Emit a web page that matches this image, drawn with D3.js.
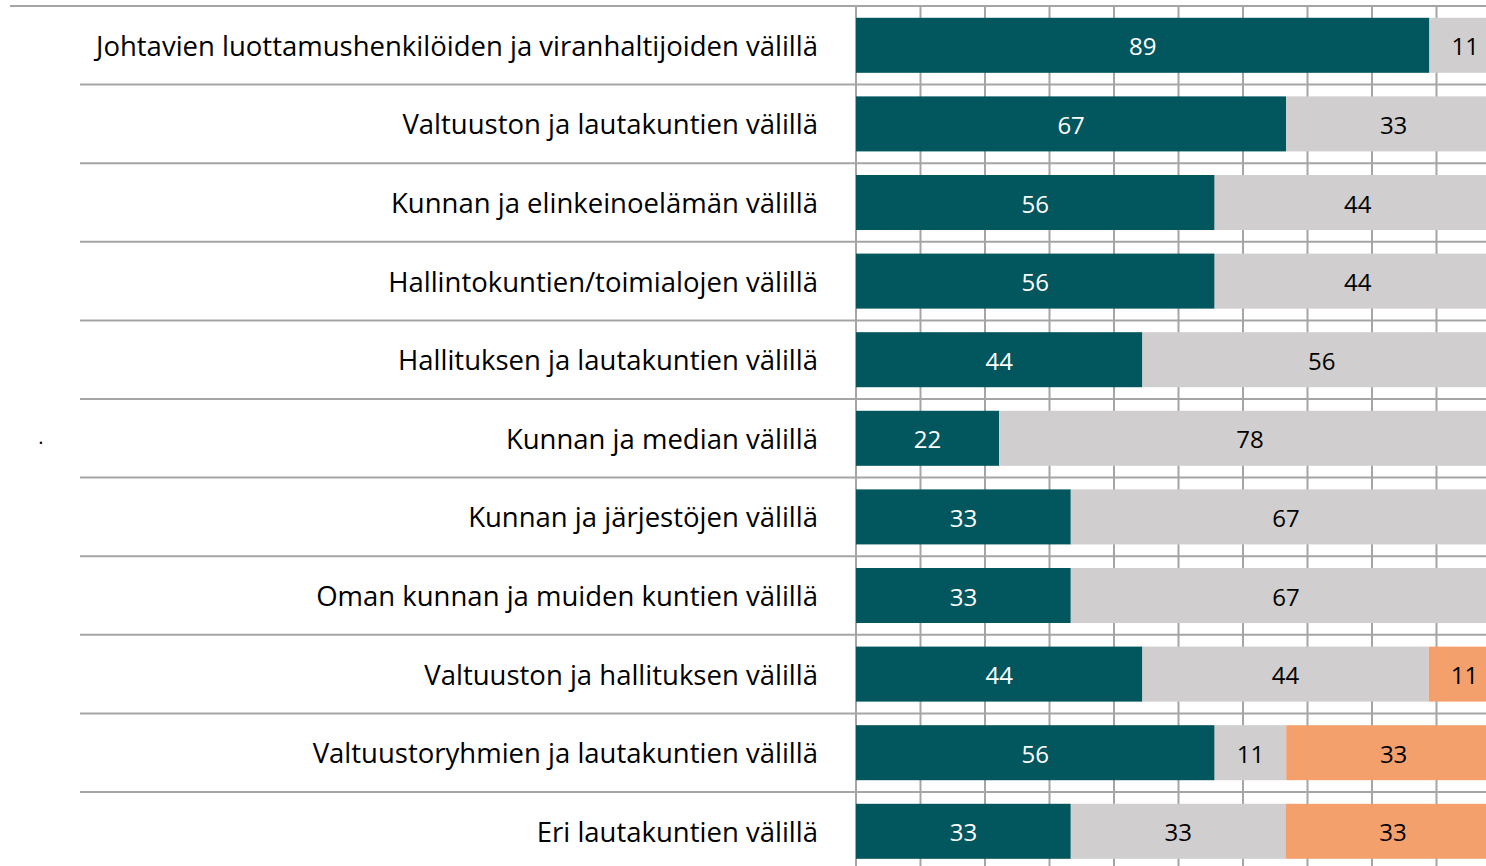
<!DOCTYPE html>
<html>
<head>
<meta charset="utf-8">
<script src="https://cdn.jsdelivr.net/npm/d3@7"></script>
<style>
  html, body { margin: 0; padding: 0; background: #fff; }
  svg { display: block; }
  .label { font-family: "Open Sans", "Noto Sans", sans-serif; fill: #000; }
  .value { font-family: "Open Sans", "Noto Sans", sans-serif; }
</style>
</head>
<body>
<svg id="chart" width="1486" height="866"></svg>
<script>
const categories = [
  "Johtavien luottamushenkilöiden ja viranhaltijoiden välillä",
  "Valtuuston ja lautakuntien välillä",
  "Kunnan ja elinkeinoelämän välillä",
  "Hallintokuntien/toimialojen välillä",
  "Hallituksen ja lautakuntien välillä",
  "Kunnan ja median välillä",
  "Kunnan ja järjestöjen välillä",
  "Oman kunnan ja muiden kuntien välillä",
  "Valtuuston ja hallituksen välillä",
  "Valtuustoryhmien ja lautakuntien välillä",
  "Eri lautakuntien välillä"
];
const teal = [88.9, 66.7, 55.6, 55.6, 44.4, 22.2, 33.3, 33.3, 44.4, 55.6, 33.3];
const grey = [11.1, 33.3, 44.4, 44.4, 55.6, 77.8, 66.7, 66.7, 44.4, 11.1, 33.3];
const orange = [0, 0, 0, 0, 0, 0, 0, 0, 11.1, 33.3, 33.3];
const gridTicks = [0, 10, 20, 30, 40, 50, 60, 70, 80, 90, 100];

const keys = ["teal", "grey", "orange"];
const fills = { teal: "#02565e", grey: "#d0cece", orange: "#f4a06c" };
const textFills = { teal: "#ffffff", grey: "#000000", orange: "#000000" };

const rows = categories.map((c, i) => ({
  category: c, teal: teal[i], grey: grey[i], orange: orange[i]
}));

const svg = d3.select("#chart");
const width = 1486, height = 866;
const TOP = 6, ROW_H = 78.6;

const x = d3.scaleLinear().domain([0, 100]).range([856, 1501]);
const y = d3.scaleBand()
  .domain(categories)
  .range([TOP, TOP + ROW_H * categories.length])
  .paddingInner(0.3)
  .paddingOuter(0.15);

const gridColor = "#a5a5a5";

// vertical gridlines behind bars
const gGrid = svg.append("g").attr("class", "grid");
gGrid.selectAll("line.v")
  .data(gridTicks)
  .join("line")
  .attr("class", "v")
  .attr("x1", (d) => x(d)).attr("x2", (d) => x(d))
  .attr("y1", TOP).attr("y2", height)
  .attr("stroke", gridColor)
  .attr("stroke-width", 2);

// horizontal separators
const seps = d3.range(categories.length + 1);
gGrid.selectAll("line.h")
  .data(seps)
  .join("line")
  .attr("class", "h")
  .attr("x1", (d) => (d === 0 ? 10 : 80))
  .attr("x2", width)
  .attr("y1", (d) => TOP + d * ROW_H)
  .attr("y2", (d) => TOP + d * ROW_H)
  .attr("stroke", gridColor)
  .attr("stroke-width", 2);

// stacked bars
const series = d3.stack().keys(keys)(rows);

const gBars = svg.append("g").attr("class", "bars");
const layers = gBars.selectAll("g")
  .data(series)
  .join("g")
  .attr("fill", (s) => fills[s.key]);

layers.selectAll("rect")
  .data((s) => s.map((d) => Object.assign(d, { key: s.key })))
  .join("rect")
  .attr("x", (d) => x(d[0]))
  .attr("y", (d) => y(d.data.category))
  .attr("width", (d) => x(d[1]) - x(d[0]))
  .attr("height", y.bandwidth());

// value labels
layers.selectAll("text")
  .data((s) => s.filter((d) => d[1] - d[0] > 0))
  .join("text")
  .attr("class", "value")
  .attr("x", (d) => (x(d[0]) + x(d[1])) / 2)
  .attr("y", (d) => y(d.data.category) + y.bandwidth() / 2)
  .attr("dy", "0.42em")
  .attr("text-anchor", "middle")
  .attr("font-size", 24)
  .attr("fill", (d) => textFills[d.key])
  .text((d) => Math.round(d[1] - d[0]));

// category labels
svg.append("g")
  .selectAll("text")
  .data(categories)
  .join("text")
  .attr("class", "label")
  .attr("x", 818)
  .attr("y", (d) => y(d) + y.bandwidth() / 2)
  .attr("dy", "0.38em")
  .attr("text-anchor", "end")
  .attr("font-size", 27.5)
  .text((d) => d);

// stray dot at left
svg.append("text")
  .attr("class", "label")
  .attr("x", 41)
  .attr("y", 444)
  .attr("text-anchor", "middle")
  .attr("font-size", 20)
  .text(".");
</script>
</body>
</html>
